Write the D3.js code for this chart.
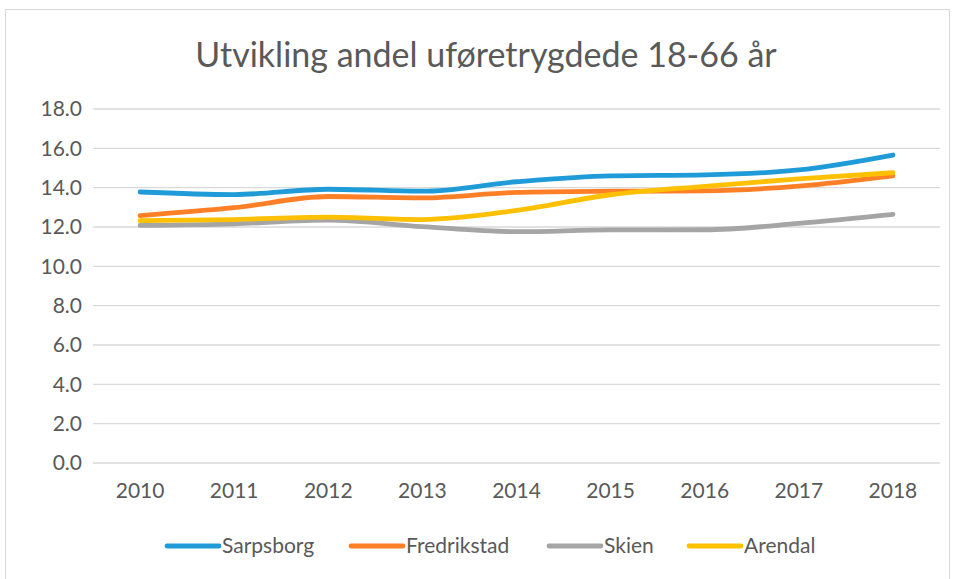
<!DOCTYPE html>
<html>
<head>
<meta charset="utf-8">
<script src="https://cdn.jsdelivr.net/npm/d3@7"></script>
<style>
  html, body { margin: 0; padding: 0; background: #fff; }
  svg { display: block; }
</style>
</head>
<body>
<svg id="chart" width="954" height="579"></svg>
<script>
const years = ["2010","2011","2012","2013","2014","2015","2016","2017","2018"];
const seriesNames = ["Sarpsborg","Fredrikstad","Skien","Arendal"];
const seriesColors = ["#1f9cd8","#ff7f27","#a5a5a5","#ffc000"];
const sarpsborg   = [13.78, 13.65, 13.92, 13.82, 14.30, 14.60, 14.65, 14.90, 15.66];
const fredrikstad = [12.58, 12.98, 13.55, 13.48, 13.76, 13.82, 13.84, 14.08, 14.60];
const skien       = [12.08, 12.16, 12.35, 12.02, 11.76, 11.85, 11.86, 12.18, 12.64];
const arendal     = [12.32, 12.38, 12.50, 12.38, 12.84, 13.64, 14.07, 14.45, 14.76];
const yTicks = [0, 2, 4, 6, 8, 10, 12, 14, 16, 18];
const title = "Utvikling andel uføretrygdede 18-66 år";

const allSeries = [sarpsborg, fredrikstad, skien, arendal];
const font = "Lato, 'Open Sans', sans-serif";
const textColor = "#595959";

const svg = d3.select("#chart");

// chart frame
svg.append("rect")
  .attr("x", 5.5).attr("y", 9.5)
  .attr("width", 944).attr("height", 580)
  .attr("fill", "#fff").attr("stroke", "#d9d9d9").attr("stroke-width", 1);

const plot = { left: 93, right: 940, top: 109, bottom: 463 };

const x = d3.scaleBand().domain(years).range([plot.left, plot.right]).padding(0);
const y = d3.scaleLinear().domain([0, 18]).range([plot.bottom, plot.top]);

// title
svg.append("text")
  .attr("x", 486).attr("y", 67)
  .attr("text-anchor", "middle")
  .attr("font-family", font).attr("font-size", 34)
  .attr("fill", textColor)
  .text(title);

// gridlines
svg.append("g")
  .selectAll("line").data(yTicks).join("line")
  .attr("x1", plot.left).attr("x2", plot.right)
  .attr("y1", d => y(d)).attr("y2", d => y(d))
  .attr("stroke", "#d9d9d9").attr("stroke-width", 1.3);

// y axis
const yAxis = d3.axisLeft(y).tickValues(yTicks).tickFormat(d3.format(".1f")).tickSize(0).tickPadding(11);
const gy = svg.append("g").attr("transform", `translate(${plot.left},0)`).call(yAxis);
gy.select(".domain").remove();
gy.selectAll("text").attr("font-family", font).attr("font-size", 21).attr("fill", textColor);

// x axis
const xAxis = d3.axisBottom(x).tickSize(0).tickPadding(20);
const gx = svg.append("g").attr("transform", `translate(0,${plot.bottom})`).call(xAxis);
gx.select(".domain").remove();
gx.selectAll("text").attr("font-family", font).attr("font-size", 21).attr("fill", textColor);

// lines
const line = d3.line()
  .x((d, i) => x(years[i]) + x.bandwidth() / 2)
  .y(d => y(d))
  .curve(d3.curveMonotoneX);

svg.append("g").selectAll("path").data(allSeries).join("path")
  .attr("d", d => line(d))
  .attr("fill", "none")
  .attr("stroke", (d, i) => seriesColors[i])
  .attr("stroke-width", 4.8)
  .attr("stroke-linecap", "round")
  .attr("stroke-linejoin", "round");

// legend
const legendX = [165, 349, 547, 687];
const legend = svg.append("g");
seriesNames.forEach((name, i) => {
  const g = legend.append("g").attr("transform", `translate(${legendX[i]},546)`);
  g.append("line").attr("x1", 2).attr("x2", 54).attr("y1", 0).attr("y2", 0)
    .attr("stroke", seriesColors[i]).attr("stroke-width", 4.8).attr("stroke-linecap", "round");
  g.append("text").attr("x", 57).attr("y", 7)
    .attr("font-family", font).attr("font-size", 21).attr("fill", textColor)
    .text(name);
});
</script>
</body>
</html>
